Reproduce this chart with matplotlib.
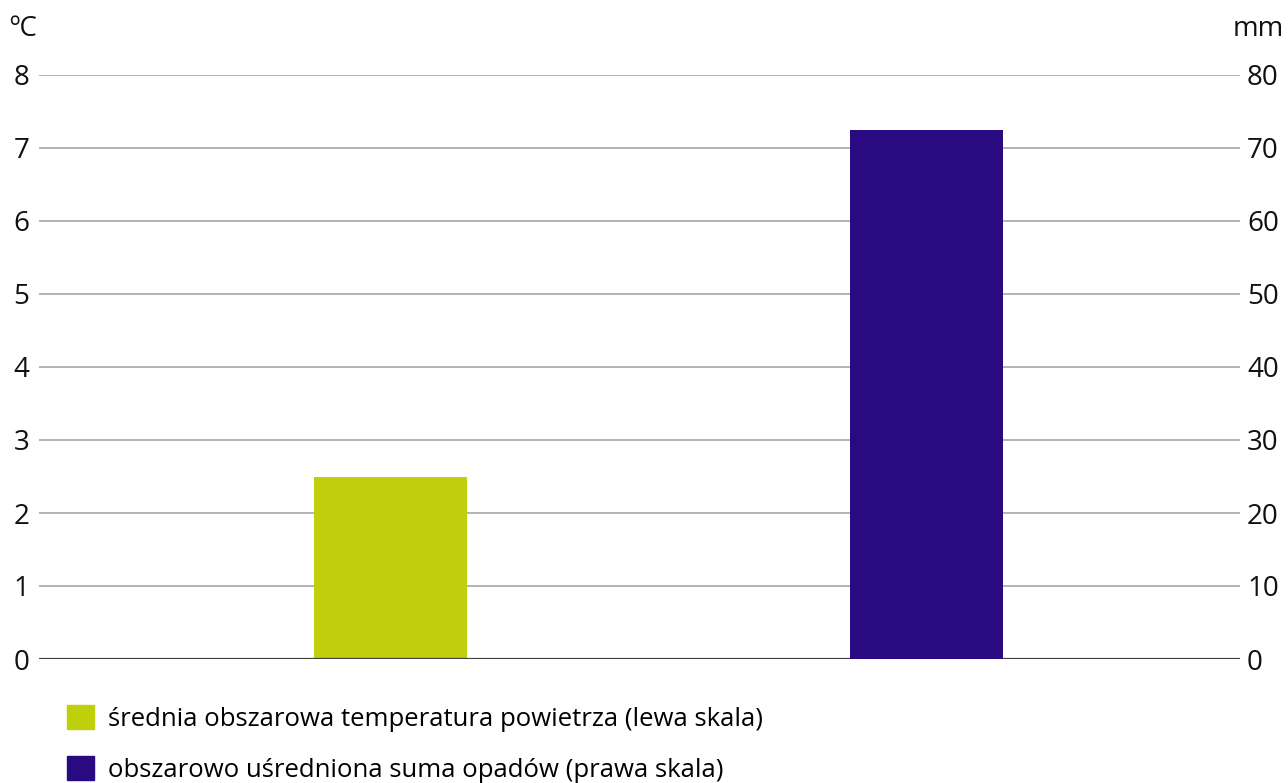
import matplotlib
matplotlib.use("Agg")
import matplotlib.pyplot as plt
from matplotlib.patches import Patch

plt.rcParams['font.family'] = ['Open Sans', 'DejaVu Sans']

categories = ["temperatura", "opady"]
temp_values = [2.5]        # °C, left scale
precip_values = [72.5]     # mm, right scale
left_ticks = [0, 1, 2, 3, 4, 5, 6, 7, 8]
right_ticks = [0, 10, 20, 30, 40, 50, 60, 70, 80]
legend_labels = ["średnia obszarowa temperatura powietrza (lewa skala)",
                 "obszarowo uśredniona suma opadów (prawa skala)"]
colors = ["#bfcf0c", "#2a0a80"]

fig = plt.figure(figsize=(12.88, 7.83), dpi=100)
ax = fig.add_axes([39/1288, 1-659/783, (1240-39)/1288, (659-75)/783])
ax2 = ax.twinx()

ax.set_ylim(0, 8)
ax2.set_ylim(0, 80)
ax.set_xlim(-0.656, 1.585)

ax.set_yticks(left_ticks)
ax2.set_yticks(right_ticks)
for t in left_ticks[1:]:
    ax.axhline(t, color="#a6a6a6", lw=1.2, zorder=0)
ax.axhline(0, color="#404040", lw=1.6, zorder=3)

w = 0.285
b1 = ax.bar([0], temp_values, width=w, color=colors[0], zorder=2)
b2 = ax2.bar([1], precip_values, width=w, color=colors[1], zorder=2)

for a in (ax, ax2):
    for s in a.spines.values():
        s.set_visible(False)
    a.set_xticks([])
ax.tick_params(axis='y', length=0, labelsize=20, pad=7, colors="#111111")
ax2.tick_params(axis='y', length=0, labelsize=20, pad=5, colors="#111111")

fig.text(9/1288, 1-29/783, "ºC", fontsize=20, va='center', ha='left', color="#111111")
fig.text(1284/1288, 1-29/783, "mm", fontsize=20, va='center', ha='right', color="#111111")

handles = [Patch(color=colors[0]), Patch(color=colors[1])]
fig.legend(handles, legend_labels, loc='upper left',
           bbox_to_anchor=(57/1288, 1-695/783), frameon=False,
           fontsize=18.5, handlelength=1.05, handleheight=1.05,
           handletextpad=0.55, labelspacing=0.95, borderaxespad=0)

fig.savefig("out.png", dpi=100, facecolor="white")
